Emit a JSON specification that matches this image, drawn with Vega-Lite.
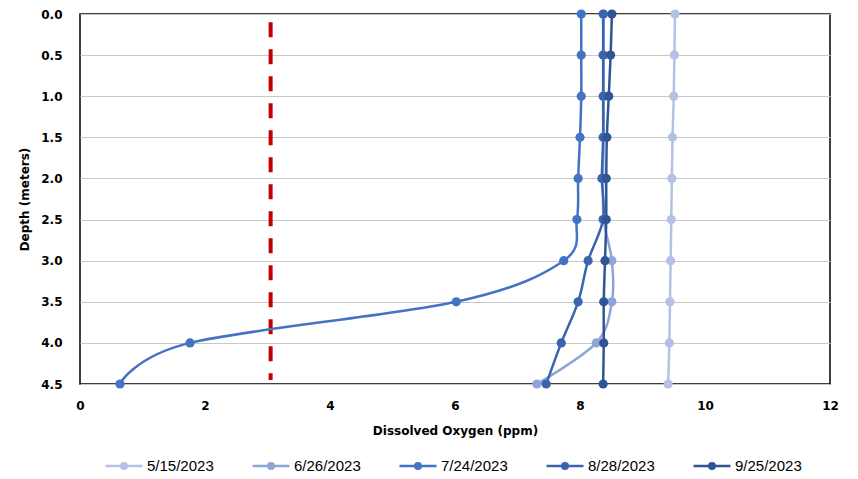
{
  "$schema": "https://vega.github.io/schema/vega-lite/v6.json",
  "width": 750,
  "height": 370,
  "autosize": {"type": "none"},
  "padding": {"left": 80, "top": 14, "right": 28, "bottom": 95},
  "background": "white",
  "config": {
    "view": {"stroke": "#000000", "strokeWidth": 1.5},
    "font": "DejaVu Sans"
  },
  "datasets": {
    "profiles": [
      {"date": "5/15/2023", "depth": 0.0, "do": 9.52},
      {"date": "5/15/2023", "depth": 0.5, "do": 9.51},
      {"date": "5/15/2023", "depth": 1.0, "do": 9.5},
      {"date": "5/15/2023", "depth": 1.5, "do": 9.48},
      {"date": "5/15/2023", "depth": 2.0, "do": 9.47},
      {"date": "5/15/2023", "depth": 2.5, "do": 9.46},
      {"date": "5/15/2023", "depth": 3.0, "do": 9.45},
      {"date": "5/15/2023", "depth": 3.5, "do": 9.44},
      {"date": "5/15/2023", "depth": 4.0, "do": 9.43},
      {"date": "5/15/2023", "depth": 4.5, "do": 9.41},
      {"date": "6/26/2023", "depth": 0.0, "do": 8.38},
      {"date": "6/26/2023", "depth": 0.5, "do": 8.38},
      {"date": "6/26/2023", "depth": 1.0, "do": 8.38},
      {"date": "6/26/2023", "depth": 1.5, "do": 8.38},
      {"date": "6/26/2023", "depth": 2.0, "do": 8.37},
      {"date": "6/26/2023", "depth": 2.5, "do": 8.38},
      {"date": "6/26/2023", "depth": 3.0, "do": 8.51},
      {"date": "6/26/2023", "depth": 3.5, "do": 8.51},
      {"date": "6/26/2023", "depth": 4.0, "do": 8.26},
      {"date": "6/26/2023", "depth": 4.5, "do": 7.31},
      {"date": "7/24/2023", "depth": 0.0, "do": 8.02},
      {"date": "7/24/2023", "depth": 0.5, "do": 8.02},
      {"date": "7/24/2023", "depth": 1.0, "do": 8.02},
      {"date": "7/24/2023", "depth": 1.5, "do": 8.0},
      {"date": "7/24/2023", "depth": 2.0, "do": 7.97},
      {"date": "7/24/2023", "depth": 2.5, "do": 7.95},
      {"date": "7/24/2023", "depth": 3.0, "do": 7.74},
      {"date": "7/24/2023", "depth": 3.5, "do": 6.02},
      {"date": "7/24/2023", "depth": 4.0, "do": 1.76},
      {"date": "7/24/2023", "depth": 4.5, "do": 0.64},
      {"date": "8/28/2023", "depth": 0.0, "do": 8.37},
      {"date": "8/28/2023", "depth": 0.5, "do": 8.37},
      {"date": "8/28/2023", "depth": 1.0, "do": 8.37},
      {"date": "8/28/2023", "depth": 1.5, "do": 8.37},
      {"date": "8/28/2023", "depth": 2.0, "do": 8.35},
      {"date": "8/28/2023", "depth": 2.5, "do": 8.37},
      {"date": "8/28/2023", "depth": 3.0, "do": 8.13},
      {"date": "8/28/2023", "depth": 3.5, "do": 7.97},
      {"date": "8/28/2023", "depth": 4.0, "do": 7.7},
      {"date": "8/28/2023", "depth": 4.5, "do": 7.46},
      {"date": "9/25/2023", "depth": 0.0, "do": 8.51},
      {"date": "9/25/2023", "depth": 0.5, "do": 8.49},
      {"date": "9/25/2023", "depth": 1.0, "do": 8.46},
      {"date": "9/25/2023", "depth": 1.5, "do": 8.43},
      {"date": "9/25/2023", "depth": 2.0, "do": 8.42},
      {"date": "9/25/2023", "depth": 2.5, "do": 8.42},
      {"date": "9/25/2023", "depth": 3.0, "do": 8.4},
      {"date": "9/25/2023", "depth": 3.5, "do": 8.38},
      {"date": "9/25/2023", "depth": 4.0, "do": 8.38},
      {"date": "9/25/2023", "depth": 4.5, "do": 8.37}
    ],
    "threshold": [
      {"do": 3.05, "top": 0.1, "bottom": 4.45}
    ]
  },
  "layer": [
    {
      "data": {"name": "threshold"},
      "mark": {"type": "rule", "color": "#C00000", "strokeWidth": 4, "strokeDash": [15, 12]},
      "encoding": {
        "x": {"field": "do", "type": "quantitative", "scale": {"domain": [0, 12]}},
        "y": {"field": "top", "type": "quantitative", "scale": {"domain": [0, 4.5], "reverse": true}},
        "y2": {"field": "bottom"}
      }
    },
    {
      "data": {"name": "profiles"},
      "mark": {
        "type": "line",
        "interpolate": "cardinal",
        "tension": 0,
        "strokeWidth": 2.5,
        "point": {"filled": true, "size": 85, "opacity": 1}
      },
      "encoding": {
        "x": {
          "field": "do",
          "type": "quantitative",
          "scale": {"domain": [0, 12], "nice": false},
          "axis": {
            "title": "Dissolved Oxygen (ppm)",
            "values": [0, 2, 4, 6, 8, 10, 12],
            "format": "d",
            "grid": false,
            "domain": false,
            "ticks": false,
            "labelFlush": false,
            "labelPadding": 16,
            "labelFontSize": 12,
            "labelFontWeight": "bold",
            "labelColor": "#000000",
            "titleFontSize": 12,
            "titleFontWeight": "bold",
            "titleColor": "#000000",
            "titlePadding": 14
          }
        },
        "y": {
          "field": "depth",
          "type": "quantitative",
          "scale": {"domain": [0, 4.5], "reverse": true, "nice": false},
          "axis": {
            "title": "Depth (meters)",
            "values": [0, 0.5, 1, 1.5, 2, 2.5, 3, 3.5, 4, 4.5],
            "format": ".1f",
            "grid": true,
            "gridColor": "#C8C8C8",
            "gridWidth": 1.2,
            "domain": false,
            "ticks": false,
            "labelFlush": false,
            "labelPadding": 18,
            "labelFontSize": 12,
            "labelFontWeight": "bold",
            "labelColor": "#000000",
            "titleFontSize": 12,
            "titleFontWeight": "bold",
            "titleColor": "#000000",
            "titlePadding": 9
          }
        },
        "order": {"field": "depth", "type": "quantitative"},
        "color": {
          "field": "date",
          "type": "nominal",
          "scale": {
            "domain": ["5/15/2023", "6/26/2023", "7/24/2023", "8/28/2023", "9/25/2023"],
            "range": ["#B4C1E4", "#8FA5D9", "#4472C4", "#3A64B0", "#2F5597"]
          },
          "legend": {
            "title": null,
            "orient": "none",
            "legendX": 24,
            "legendY": 432,
            "direction": "horizontal",
            "columns": 5,
            "columnPadding": 33,
            "symbolType": "M-1,0H1M-0.15,0A0.15,0.15,0,1,1,0.15,0A0.15,0.15,0,1,1,-0.15,0",
            "symbolSize": 1369,
            "symbolStrokeWidth": 2.5,
            "labelFont": "Liberation Sans",
            "labelFontSize": 15,
            "labelColor": "#000000",
            "labelOffset": 3,
            "encode": {
              "symbols": {"update": {"fill": {"scale": "color", "field": "value"}, "opacity": {"value": 1}}}
            }
          }
        }
      }
    }
  ]
}
